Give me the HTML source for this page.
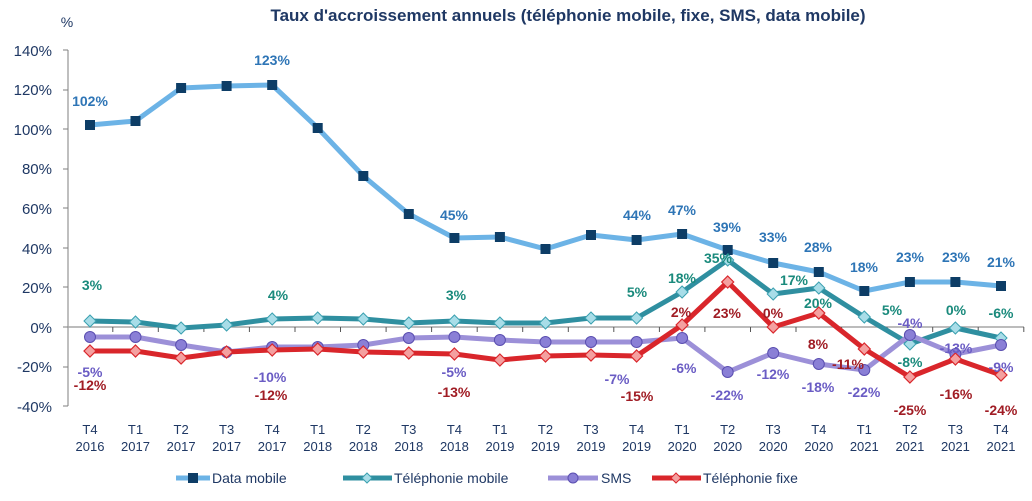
<!DOCTYPE html>
<html><head><meta charset="utf-8"><style>
body{margin:0;background:#fff;}
svg{display:block;font-family:"Liberation Sans",sans-serif;}
</style></head><body>
<svg width="1032" height="501" viewBox="0 0 1032 501">
<text x="568" y="21" text-anchor="middle" font-size="17" font-weight="bold" fill="#1f3864">Taux d'accroissement annuels (téléphonie mobile, fixe, SMS, data mobile)</text>
<text x="67" y="27" text-anchor="middle" font-size="14" fill="#1f3864">%</text>
<g font-size="15" fill="#1f3864" text-anchor="end">
<text x="52" y="56">140%</text><text x="52" y="95">120%</text><text x="52" y="135">100%</text>
<text x="52" y="174">80%</text><text x="52" y="214">60%</text><text x="52" y="254">40%</text>
<text x="52" y="293">20%</text><text x="52" y="333">0%</text><text x="52" y="372">-20%</text><text x="52" y="412">-40%</text>
</g>
<g stroke="#7f7f7f" stroke-width="1">
<line x1="68" y1="50" x2="68" y2="406"/>
<line x1="63" y1="50" x2="68" y2="50"/><line x1="63" y1="90" x2="68" y2="90"/><line x1="63" y1="129" x2="68" y2="129"/>
<line x1="63" y1="169" x2="68" y2="169"/><line x1="63" y1="208" x2="68" y2="208"/><line x1="63" y1="248" x2="68" y2="248"/>
<line x1="63" y1="287" x2="68" y2="287"/><line x1="63" y1="327" x2="68" y2="327"/><line x1="63" y1="367" x2="68" y2="367"/><line x1="63" y1="406" x2="68" y2="406"/>
<line x1="68" y1="327" x2="1024" y2="327" stroke="#a6a6a6" stroke-width="1.5"/>
</g>
<g stroke="#555" stroke-width="1">
<line x1="112.8" y1="327" x2="112.8" y2="332"/><line x1="158.3" y1="327" x2="158.3" y2="332"/><line x1="203.9" y1="327" x2="203.9" y2="332"/><line x1="249.4" y1="327" x2="249.4" y2="332"/><line x1="295" y1="327" x2="295" y2="332"/><line x1="340.5" y1="327" x2="340.5" y2="332"/><line x1="386.1" y1="327" x2="386.1" y2="332"/><line x1="431.6" y1="327" x2="431.6" y2="332"/><line x1="477.2" y1="327" x2="477.2" y2="332"/><line x1="522.7" y1="327" x2="522.7" y2="332"/><line x1="568.3" y1="327" x2="568.3" y2="332"/><line x1="613.8" y1="327" x2="613.8" y2="332"/><line x1="659.4" y1="327" x2="659.4" y2="332"/><line x1="704.9" y1="327" x2="704.9" y2="332"/><line x1="750.5" y1="327" x2="750.5" y2="332"/><line x1="796" y1="327" x2="796" y2="332"/><line x1="841.6" y1="327" x2="841.6" y2="332"/><line x1="887.1" y1="327" x2="887.1" y2="332"/><line x1="932.7" y1="327" x2="932.7" y2="332"/><line x1="978.2" y1="327" x2="978.2" y2="332"/><line x1="1023.8" y1="327" x2="1023.8" y2="332"/>
</g>
<g font-size="13" fill="#1f3864" text-anchor="middle">
<text x="90" y="434">T4</text><text x="90" y="451">2016</text>
<text x="135.5" y="434">T1</text><text x="135.5" y="451">2017</text>
<text x="181.1" y="434">T2</text><text x="181.1" y="451">2017</text>
<text x="226.6" y="434">T3</text><text x="226.6" y="451">2017</text>
<text x="272.2" y="434">T4</text><text x="272.2" y="451">2017</text>
<text x="317.7" y="434">T1</text><text x="317.7" y="451">2018</text>
<text x="363.3" y="434">T2</text><text x="363.3" y="451">2018</text>
<text x="408.8" y="434">T3</text><text x="408.8" y="451">2018</text>
<text x="454.4" y="434">T4</text><text x="454.4" y="451">2018</text>
<text x="499.9" y="434">T1</text><text x="499.9" y="451">2019</text>
<text x="545.5" y="434">T2</text><text x="545.5" y="451">2019</text>
<text x="591" y="434">T3</text><text x="591" y="451">2019</text>
<text x="636.6" y="434">T4</text><text x="636.6" y="451">2019</text>
<text x="682.1" y="434">T1</text><text x="682.1" y="451">2020</text>
<text x="727.7" y="434">T2</text><text x="727.7" y="451">2020</text>
<text x="773.2" y="434">T3</text><text x="773.2" y="451">2020</text>
<text x="818.8" y="434">T4</text><text x="818.8" y="451">2020</text>
<text x="864.3" y="434">T1</text><text x="864.3" y="451">2021</text>
<text x="909.9" y="434">T2</text><text x="909.9" y="451">2021</text>
<text x="955.4" y="434">T3</text><text x="955.4" y="451">2021</text>
<text x="1001" y="434">T4</text><text x="1001" y="451">2021</text>
</g>
<!-- Data mobile -->
<polyline fill="none" stroke="#6cb3e6" stroke-width="5" stroke-linejoin="round" points="90,125 135.5,121 181.1,88 226.6,86 272.2,85 317.7,128 363.3,176 408.8,214 454.4,238 499.9,237 545.5,249 591,235 636.6,240 682.1,234 727.7,250 773.2,263 818.8,272 864.3,291 909.9,282 955.4,282 1001,286"/>
<g fill="#0d3d66"><rect x="85" y="120" width="10" height="10"/><rect x="130.5" y="116" width="10" height="10"/><rect x="176.1" y="83" width="10" height="10"/><rect x="221.6" y="81" width="10" height="10"/><rect x="267.2" y="80" width="10" height="10"/><rect x="312.7" y="123" width="10" height="10"/><rect x="358.3" y="171" width="10" height="10"/><rect x="403.8" y="209" width="10" height="10"/><rect x="449.4" y="233" width="10" height="10"/><rect x="494.9" y="232" width="10" height="10"/><rect x="540.5" y="244" width="10" height="10"/><rect x="586" y="230" width="10" height="10"/><rect x="631.6" y="235" width="10" height="10"/><rect x="677.1" y="229" width="10" height="10"/><rect x="722.7" y="245" width="10" height="10"/><rect x="768.2" y="258" width="10" height="10"/><rect x="813.8" y="267" width="10" height="10"/><rect x="859.3" y="286" width="10" height="10"/><rect x="904.9" y="277" width="10" height="10"/><rect x="950.4" y="277" width="10" height="10"/><rect x="996" y="281" width="10" height="10"/></g>
<!-- Telephonie mobile -->
<polyline fill="none" stroke="#2f8fa0" stroke-width="5" stroke-linejoin="round" points="90,321 135.5,322 181.1,328 226.6,325 272.2,319 317.7,318 363.3,319 408.8,323 454.4,321 499.9,323 545.5,323 591,318 636.6,318 682.1,292 727.7,260 773.2,294 818.8,288 864.3,317 909.9,344 955.4,328 1001,338"/>
<g fill="#a8dde8" stroke="#3aa0b0" stroke-width="1"><path id="d" d="M0,-6 L6,0 L0,6 L-6,0Z" transform="translate(90,321)"/>
<path d="M0,-6 L6,0 L0,6 L-6,0Z" transform="translate(135.5,322)"/><path d="M0,-6 L6,0 L0,6 L-6,0Z" transform="translate(181.1,328)"/><path d="M0,-6 L6,0 L0,6 L-6,0Z" transform="translate(226.6,325)"/><path d="M0,-6 L6,0 L0,6 L-6,0Z" transform="translate(272.2,319)"/><path d="M0,-6 L6,0 L0,6 L-6,0Z" transform="translate(317.7,318)"/><path d="M0,-6 L6,0 L0,6 L-6,0Z" transform="translate(363.3,319)"/><path d="M0,-6 L6,0 L0,6 L-6,0Z" transform="translate(408.8,323)"/><path d="M0,-6 L6,0 L0,6 L-6,0Z" transform="translate(454.4,321)"/><path d="M0,-6 L6,0 L0,6 L-6,0Z" transform="translate(499.9,323)"/><path d="M0,-6 L6,0 L0,6 L-6,0Z" transform="translate(545.5,323)"/><path d="M0,-6 L6,0 L0,6 L-6,0Z" transform="translate(591,318)"/><path d="M0,-6 L6,0 L0,6 L-6,0Z" transform="translate(636.6,318)"/><path d="M0,-6 L6,0 L0,6 L-6,0Z" transform="translate(682.1,292)"/><path d="M0,-6 L6,0 L0,6 L-6,0Z" transform="translate(727.7,260)"/><path d="M0,-6 L6,0 L0,6 L-6,0Z" transform="translate(773.2,294)"/><path d="M0,-6 L6,0 L0,6 L-6,0Z" transform="translate(818.8,288)"/><path d="M0,-6 L6,0 L0,6 L-6,0Z" transform="translate(864.3,317)"/><path d="M0,-6 L6,0 L0,6 L-6,0Z" transform="translate(909.9,344)"/><path d="M0,-6 L6,0 L0,6 L-6,0Z" transform="translate(955.4,328)"/><path d="M0,-6 L6,0 L0,6 L-6,0Z" transform="translate(1001,338)"/></g>
<!-- SMS -->
<polyline fill="none" stroke="#9c90d8" stroke-width="5" stroke-linejoin="round" points="90,337 135.5,337 181.1,345 226.6,352 272.2,347 317.7,347 363.3,345 408.8,338 454.4,337 499.9,340 545.5,342 591,342 636.6,342 682.1,338 727.7,372 773.2,353 818.8,364 864.3,370 909.9,335 955.4,354 1001,345"/>
<g fill="#8a7fd6" stroke="#5a4eb0" stroke-width="1"><circle cx="90" cy="337" r="5.5"/><circle cx="135.5" cy="337" r="5.5"/><circle cx="181.1" cy="345" r="5.5"/><circle cx="226.6" cy="352" r="5.5"/><circle cx="272.2" cy="347" r="5.5"/><circle cx="317.7" cy="347" r="5.5"/><circle cx="363.3" cy="345" r="5.5"/><circle cx="408.8" cy="338" r="5.5"/><circle cx="454.4" cy="337" r="5.5"/><circle cx="499.9" cy="340" r="5.5"/><circle cx="545.5" cy="342" r="5.5"/><circle cx="591" cy="342" r="5.5"/><circle cx="636.6" cy="342" r="5.5"/><circle cx="682.1" cy="338" r="5.5"/><circle cx="727.7" cy="372" r="5.5"/><circle cx="773.2" cy="353" r="5.5"/><circle cx="818.8" cy="364" r="5.5"/><circle cx="864.3" cy="370" r="5.5"/><circle cx="909.9" cy="335" r="5.5"/><circle cx="955.4" cy="354" r="5.5"/><circle cx="1001" cy="345" r="5.5"/></g>
<!-- Fixe -->
<polyline fill="none" stroke="#d9262b" stroke-width="5" stroke-linejoin="round" points="90,351 135.5,351 181.1,358 226.6,352 272.2,350 317.7,349 363.3,352 408.8,353 454.4,354 499.9,360 545.5,356 591,355 636.6,356 682.1,325 727.7,282 773.2,327 818.8,313 864.3,349 909.9,377 955.4,359 1001,375"/>
<g fill="#f4a0a0" stroke="#d9262b" stroke-width="1.2"><path d="M0,-6 L6,0 L0,6 L-6,0Z" transform="translate(90,351)"/><path d="M0,-6 L6,0 L0,6 L-6,0Z" transform="translate(135.5,351)"/><path d="M0,-6 L6,0 L0,6 L-6,0Z" transform="translate(181.1,358)"/><path d="M0,-6 L6,0 L0,6 L-6,0Z" transform="translate(226.6,352)"/><path d="M0,-6 L6,0 L0,6 L-6,0Z" transform="translate(272.2,350)"/><path d="M0,-6 L6,0 L0,6 L-6,0Z" transform="translate(317.7,349)"/><path d="M0,-6 L6,0 L0,6 L-6,0Z" transform="translate(363.3,352)"/><path d="M0,-6 L6,0 L0,6 L-6,0Z" transform="translate(408.8,353)"/><path d="M0,-6 L6,0 L0,6 L-6,0Z" transform="translate(454.4,354)"/><path d="M0,-6 L6,0 L0,6 L-6,0Z" transform="translate(499.9,360)"/><path d="M0,-6 L6,0 L0,6 L-6,0Z" transform="translate(545.5,356)"/><path d="M0,-6 L6,0 L0,6 L-6,0Z" transform="translate(591,355)"/><path d="M0,-6 L6,0 L0,6 L-6,0Z" transform="translate(636.6,356)"/><path d="M0,-6 L6,0 L0,6 L-6,0Z" transform="translate(682.1,325)"/><path d="M0,-6 L6,0 L0,6 L-6,0Z" transform="translate(727.7,282)"/><path d="M0,-6 L6,0 L0,6 L-6,0Z" transform="translate(773.2,327)"/><path d="M0,-6 L6,0 L0,6 L-6,0Z" transform="translate(818.8,313)"/><path d="M0,-6 L6,0 L0,6 L-6,0Z" transform="translate(864.3,349)"/><path d="M0,-6 L6,0 L0,6 L-6,0Z" transform="translate(909.9,377)"/><path d="M0,-6 L6,0 L0,6 L-6,0Z" transform="translate(955.4,359)"/><path d="M0,-6 L6,0 L0,6 L-6,0Z" transform="translate(1001,375)"/></g>
<!-- labels -->
<g font-size="14" font-weight="bold" text-anchor="middle">
<g fill="#2e75b6">
<text x="90" y="106">102%</text><text x="272" y="65">123%</text><text x="454" y="220">45%</text><text x="637" y="220">44%</text><text x="682" y="215">47%</text><text x="727" y="232">39%</text><text x="773" y="242">33%</text><text x="818" y="252">28%</text><text x="864" y="272">18%</text><text x="910" y="262">23%</text><text x="956" y="262">23%</text><text x="1001" y="267">21%</text>
</g>
<g fill="#1a8a7c">
<text x="92" y="290">3%</text><text x="278" y="300">4%</text><text x="456" y="300">3%</text><text x="637" y="297">5%</text><text x="682" y="283">18%</text><text x="718" y="263">35%</text><text x="794" y="285">17%</text><text x="818" y="308">20%</text><text x="892" y="315">5%</text><text x="910" y="367">-8%</text><text x="956" y="315">0%</text><text x="1001" y="318">-6%</text>
</g>
<g fill="#6a5cc4">
<text x="90" y="377">-5%</text><text x="270" y="382">-10%</text><text x="454" y="377">-5%</text><text x="617" y="384">-7%</text><text x="684" y="373">-6%</text><text x="727" y="400">-22%</text><text x="773" y="379">-12%</text><text x="818" y="392">-18%</text><text x="864" y="397">-22%</text><text x="910" y="328">-4%</text><text x="956" y="353">-13%</text><text x="1001" y="372">-9%</text>
</g>
<g fill="#a01c24">
<text x="90" y="390">-12%</text><text x="271" y="400">-12%</text><text x="454" y="397">-13%</text><text x="637" y="401">-15%</text><text x="681" y="317">2%</text><text x="727" y="318">23%</text><text x="773" y="318">0%</text><text x="818" y="349">8%</text><text x="848" y="369">-11%</text><text x="910" y="415">-25%</text><text x="956" y="399">-16%</text><text x="1001" y="415">-24%</text>
</g>
</g>
<!-- legend -->
<g font-size="14" fill="#1f3864">
<line x1="176" y1="478" x2="210" y2="478" stroke="#6cb3e6" stroke-width="5"/><rect x="188" y="473" width="10" height="10" fill="#0d3d66"/>
<text x="212" y="483">Data mobile</text>
<line x1="343" y1="478" x2="392" y2="478" stroke="#2f8fa0" stroke-width="5"/><path d="M0,-5 L5,0 L0,5 L-5,0Z" transform="translate(367,478)" fill="#a8dde8" stroke="#3aa0b0"/>
<text x="394" y="483">Téléphonie mobile</text>
<line x1="548" y1="478" x2="598" y2="478" stroke="#9c90d8" stroke-width="5"/><circle cx="573" cy="478" r="5" fill="#8a7fd6" stroke="#5a4eb0"/>
<text x="601" y="483">SMS</text>
<line x1="652" y1="478" x2="701" y2="478" stroke="#d9262b" stroke-width="5"/><path d="M0,-5 L5,0 L0,5 L-5,0Z" transform="translate(676,478)" fill="#f4a0a0" stroke="#d9262b"/>
<text x="703" y="483">Téléphonie fixe</text>
</g>
</svg>
</body></html>
